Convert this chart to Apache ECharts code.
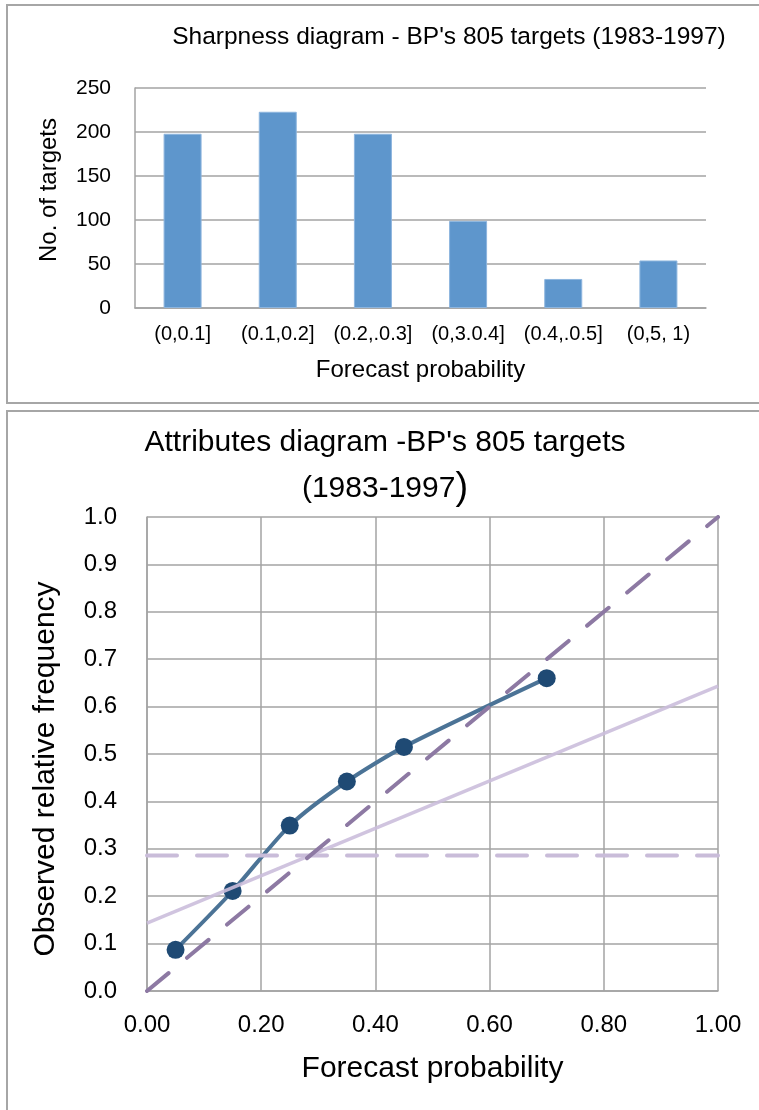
<!DOCTYPE html>
<html>
<head>
<meta charset="utf-8">
<script src="https://cdn.jsdelivr.net/npm/echarts@6/dist/echarts.min.js"></script>
<style>
  html, body { margin: 0; padding: 0; background: #ffffff; }
  #chart { width: 759px; height: 1110px; }
</style>
</head>
<body>
<div id="chart"></div>
<script>
// Sharpness histogram: number of targets per forecast-probability bin
const binLabels = ['(0,0.1]', '(0.1,0.2]', '(0.2,.0.3]', '(0,3.0.4]', '(0.4,.0.5]', '(0,5, 1)'];
const binCounts = [198, 223, 198, 99, 33, 54];
const countTicks = [0, 50, 100, 150, 200, 250];

// Attributes diagram: mean forecast probability vs observed relative frequency
const forecastProb = [0.05, 0.15, 0.25, 0.35, 0.45, 0.70];
const observedFreq = [0.087, 0.211, 0.349, 0.442, 0.515, 0.660];
const climatology = 0.286;          // sample base rate
const probTicks = [0, 0.2, 0.4, 0.6, 0.8, 1.0];
const freqTicks = [0, 0.1, 0.2, 0.3, 0.4, 0.5, 0.6, 0.7, 0.8, 0.9, 1.0];

const reliabilityPts = forecastProb.map((p, i) => [p, observedFreq[i]]);
const diagonalPts = [[0, 0], [1, 1]];
const climPts = [[0, climatology], [1, climatology]];
const noSkillPts = [[0, climatology / 2], [1, (1 + climatology) / 2]];

const FONT = 'Liberation Sans, Arial, sans-serif';
const GRID_COLOR = '#a3a3a3';

const chart = echarts.init(document.getElementById('chart'), null, { renderer: 'canvas' });

chart.setOption({
  backgroundColor: '#ffffff',
  animation: false,
  graphic: [
    { type: 'rect', shape: { x: 7, y: 5, width: 800, height: 398 },
      style: { fill: 'none', stroke: '#a6a6a6', lineWidth: 2 }, z: -10 },
    { type: 'rect', shape: { x: 7, y: 411, width: 800, height: 760 },
      style: { fill: 'none', stroke: '#a6a6a6', lineWidth: 2 }, z: -10 },
    // rotated axis titles
    { type: 'text', x: 49, y: 190, rotation: Math.PI / 2,
      style: { text: 'No. of targets', fontFamily: FONT, fontSize: 24, fill: '#000',
               textAlign: 'center', textVerticalAlign: 'middle' } },
    { type: 'text', x: 46, y: 769, rotation: Math.PI / 2,
      style: { text: 'Observed relative frequency', fontFamily: FONT, fontSize: 30, fill: '#000',
               textAlign: 'center', textVerticalAlign: 'middle' } }
  ],
  title: [
    {
      text: "Sharpness diagram - BP's 805 targets (1983-1997)",
      left: 444, top: 20, textAlign: 'center',
      textStyle: { fontFamily: FONT, fontSize: 24.5, fontWeight: 'normal', color: '#000' }
    },
    {
      text: "{a|Attributes diagram -BP's 805 targets}\n{a|(1983-1997}{b|)}",
      left: 380, top: 415, textAlign: 'center',
      textStyle: {
        rich: {
          a: { fontFamily: FONT, fontSize: 30, fontWeight: 'normal', color: '#000', lineHeight: 46, align: 'center' },
          b: { fontFamily: FONT, fontSize: 38, fontWeight: 'normal', color: '#000', lineHeight: 46 }
        }
      }
    }
  ],
  grid: [
    { left: 135, top: 88, width: 571, height: 220 },
    { left: 147, top: 517, width: 571, height: 474 }
  ],
  xAxis: [
    {
      gridIndex: 0, type: 'category', data: binLabels,
      axisLine: { show: true, lineStyle: { color: GRID_COLOR, width: 1.5 } },
      axisTick: { show: false },
      axisLabel: { fontFamily: FONT, fontSize: 20, color: '#000', margin: 16, interval: 0 },
      name: 'Forecast probability', nameLocation: 'middle', nameGap: 50,
      nameTextStyle: { fontFamily: FONT, fontSize: 24, color: '#000' }
    },
    {
      gridIndex: 1, type: 'value', min: 0, max: 1, interval: 0.2,
      axisLine: { show: true, lineStyle: { color: GRID_COLOR, width: 1.5 } },
      axisTick: { show: false },
      splitLine: { show: true, lineStyle: { color: GRID_COLOR, width: 1.5 } },
      axisLabel: { fontFamily: FONT, fontSize: 24, color: '#000', margin: 22,
                   formatter: v => v.toFixed(2) },
      name: 'Forecast probability', nameLocation: 'middle', nameGap: 63,
      nameTextStyle: { fontFamily: FONT, fontSize: 30, color: '#000' }
    }
  ],
  yAxis: [
    {
      gridIndex: 0, type: 'value', min: countTicks[0], max: countTicks[countTicks.length - 1], interval: 50,
      axisLine: { show: true, lineStyle: { color: GRID_COLOR, width: 1.5 } },
      axisTick: { show: false },
      splitLine: { show: true, lineStyle: { color: GRID_COLOR, width: 1.5 } },
      axisLabel: { fontFamily: FONT, fontSize: 21, color: '#000', margin: 24 }
    },
    {
      gridIndex: 1, type: 'value', min: freqTicks[0], max: freqTicks[freqTicks.length - 1], interval: 0.1,
      axisLine: { show: true, lineStyle: { color: GRID_COLOR, width: 1.5 } },
      axisTick: { show: false },
      splitLine: { show: true, lineStyle: { color: GRID_COLOR, width: 1.5 } },
      axisLabel: { fontFamily: FONT, fontSize: 24, color: '#000', margin: 30,
                   formatter: v => v.toFixed(1) }
    }
  ],
  series: [
    {
      type: 'bar', xAxisIndex: 0, yAxisIndex: 0, data: binCounts, barWidth: 38,
      itemStyle: { color: '#5e96cc', borderColor: '#8db5de', borderWidth: 1 }
    },
    {
      name: 'Reliability', type: 'line', xAxisIndex: 1, yAxisIndex: 1,
      data: reliabilityPts, smooth: 0.25,
      lineStyle: { color: '#4b7396', width: 4 },
      symbol: 'circle', symbolSize: 18,
      itemStyle: { color: '#1f4a74' }, z: 2
    },
    {
      name: 'No skill', type: 'line', xAxisIndex: 1, yAxisIndex: 1,
      data: noSkillPts, symbol: 'none',
      lineStyle: { color: '#cbbedb', width: 3.5, opacity: 0.9 }, z: 3
    },
    {
      name: 'Climatology', type: 'line', xAxisIndex: 1, yAxisIndex: 1,
      data: climPts, symbol: 'none',
      lineStyle: { color: '#c9bcd9', width: 4, type: [30, 20], cap: 'round' }, z: 3
    },
    {
      name: 'Perfect reliability', type: 'line', xAxisIndex: 1, yAxisIndex: 1,
      data: diagonalPts, symbol: 'none',
      lineStyle: { color: '#8d79a3', width: 4, type: [28, 24], cap: 'round' }, z: 4
    }
  ]
});
</script>
</body>
</html>
